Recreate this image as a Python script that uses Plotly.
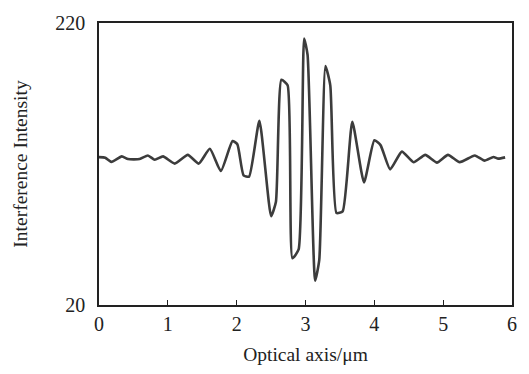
import plotly.graph_objects as go

optical_axis_um = [0.00, 0.09, 0.18, 0.33, 0.42, 0.59, 0.71, 0.81, 0.93, 1.10, 1.29, 1.45,
                   1.61, 1.77, 1.94, 2.01, 2.10, 2.18, 2.33, 2.50, 2.57, 2.65, 2.74, 2.81,
                   2.90, 2.98, 3.03, 3.14, 3.20, 3.29, 3.36, 3.45, 3.54, 3.68, 3.85, 4.00,
                   4.09, 4.23, 4.40, 4.57, 4.74, 4.91, 5.07, 5.24, 5.46, 5.60, 5.73, 5.80, 5.90]
intensity = [124.9, 124.5, 121.5, 125.4, 123.5, 123.5, 126.0, 123.0, 125.4, 120.3, 126.5, 120.3,
             130.8, 115.0, 136.3, 134.0, 112.0, 111.0, 150.6, 83.0, 93.0, 179.7, 175.8, 53.2,
             59.4, 209.0, 197.5, 37.2, 52.0, 189.5, 175.8, 85.3, 86.4, 150.0, 107.0, 136.8,
             133.4, 116.2, 128.8, 121.3, 126.5, 121.0, 126.5, 121.3, 126.0, 122.4, 125.0, 123.8, 124.7]

x_ticks = [0, 1, 2, 3, 4, 5, 6]
y_ticks = [20, 220]

fig = go.Figure()
fig.add_trace(go.Scatter(x=optical_axis_um, y=intensity, mode="lines",
                         line=dict(color="#3c3c3c", width=2.6, shape="spline", smoothing=0.5),
                         showlegend=False))

font_family = "Liberation Serif, Times New Roman, serif"
fig.update_layout(
    width=529, height=374,
    margin=dict(l=99, r=15, t=16, b=67),
    paper_bgcolor="white", plot_bgcolor="white",
    font=dict(family=font_family, color="#222", size=20),
    xaxis=dict(range=[0, 6], tickvals=x_ticks, ticks="inside", ticklen=5, tickwidth=1.2,
               tickcolor="#222", showline=True, mirror=True, linecolor="#222", linewidth=1.5,
               showgrid=False, zeroline=False, tickfont=dict(size=20),
               title=dict(text="Optical axis/μm", font=dict(size=19.5), standoff=14)),
    yaxis=dict(range=[20, 220], tickvals=y_ticks, ticks="", showline=True, mirror=True,
               linecolor="#222", linewidth=1.5, showgrid=False, zeroline=False,
               tickfont=dict(size=20), ticklabelstandoff=8,
               title=dict(text="Interference Intensity", font=dict(size=19.5), standoff=22)),
)

fig.write_html("out.html")
